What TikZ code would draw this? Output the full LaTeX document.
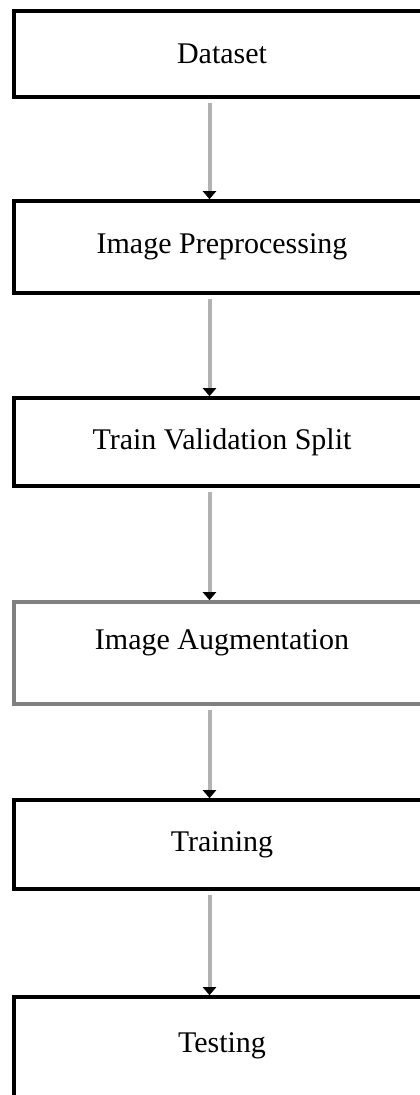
\documentclass[tikz,border=0pt]{standalone}
\usepackage{fontspec}
\setmainfont{Liberation Serif}
\usetikzlibrary{arrows.meta}
\tikzset{
  stage/.style={draw, line width=1.8pt, minimum width=208pt, inner sep=0pt,
    font=\fontsize{15pt}{18pt}\selectfont},
  flow/.style={draw=black!30, line width=2pt,
    -{Triangle[length=4pt,width=6.5pt,black]}, shorten <=2pt}
}
\begin{document}
\begin{tikzpicture}[x=0.5pt,y=-0.5pt]
      \useasboundingbox (0,0) rectangle (419,1095);
      \draw
        (222,54) node[stage, minimum height=43pt] (dataset){Dataset}
        (222,247) node[stage, minimum height=46pt] (preproc){Image Preprocessing}
        (222,442) node[stage, minimum height=44pt] (split){Train Validation Split}
        (222,653) node[stage, draw=black!50, minimum height=51pt, text depth=13pt] (augment){Image Augmentation}
        (222,844.5) node[stage, minimum height=44.5pt] (train){Training}
        (222,1048.5) node[stage, minimum height=51.5pt, text depth=6pt] (test){Testing};
      \begin{scope}[flow]
        \draw ([xshift=-6.25pt]dataset.south) to ([xshift=-6.25pt]preproc.north);
        \draw ([xshift=-6.25pt]preproc.south) to ([xshift=-6.25pt]split.north);
        \draw ([xshift=-6.25pt]split.south) to ([xshift=-6.25pt]augment.north);
        \draw ([xshift=-6.25pt]augment.south) to ([xshift=-6.25pt]train.north);
        \draw ([xshift=-6.25pt]train.south) to ([xshift=-6.25pt]test.north);
      \end{scope}
    \end{tikzpicture}
\end{document}
